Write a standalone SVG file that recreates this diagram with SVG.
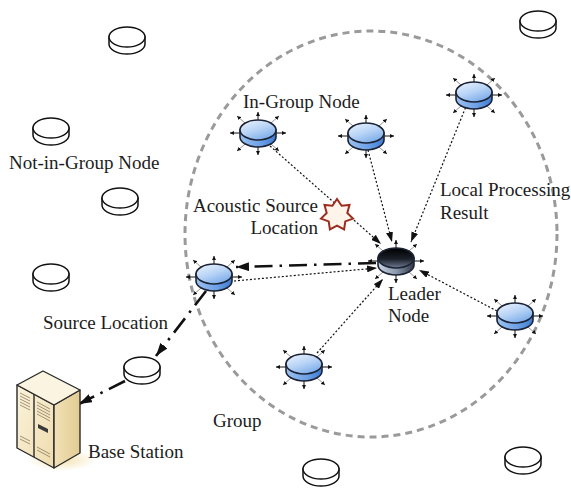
<svg xmlns="http://www.w3.org/2000/svg" xmlns:xlink="http://www.w3.org/1999/xlink" width="571" height="492" viewBox="0 0 571 492">
  <style>
    .lbl { font-family: "Liberation Serif", "Times New Roman", serif; font-size: 19px; fill: #1c1c1c; }
    .group { fill: none; stroke: #9a9a9a; stroke-width: 3; stroke-dasharray: 7 5; }
    .dot { fill: none; stroke: #111; stroke-width: 1.2; stroke-dasharray: 2 2; }
    .dashdot { fill: none; stroke: #111; stroke-width: 2.6; stroke-dasharray: 18 7 2.5 7; }
    .ray { stroke: #111; stroke-width: 1; }
    .ray2 { stroke: #777; stroke-width: 0.8; }
    .outline { stroke: #1b2233; stroke-width: 1.6; }
    .plain { fill: #fff; stroke: #111; stroke-width: 1.5; }
    .rack { stroke: #2a2a2a; stroke-width: 1.4; stroke-linejoin: round; }
  </style>
  <defs>
    <linearGradient id="blueTop" x1="0" y1="0" x2="0.6" y2="1">
      <stop offset="0" stop-color="#eef5ff"/>
      <stop offset="0.55" stop-color="#b9d4f6"/>
      <stop offset="1" stop-color="#7eaeea"/>
    </linearGradient>
    <linearGradient id="blueSide" x1="0" y1="0" x2="1" y2="0">
      <stop offset="0" stop-color="#9cc2f2"/>
      <stop offset="0.6" stop-color="#6b9fe4"/>
      <stop offset="1" stop-color="#3d7bd4"/>
    </linearGradient>
    <linearGradient id="darkTop" x1="0" y1="0" x2="0" y2="1">
      <stop offset="0" stop-color="#000"/>
      <stop offset="0.55" stop-color="#1b1f29"/>
      <stop offset="1" stop-color="#6f7c93"/>
    </linearGradient>
    <linearGradient id="darkSide" x1="0" y1="0" x2="1" y2="0">
      <stop offset="0" stop-color="#c9d3e2"/>
      <stop offset="0.5" stop-color="#8c99ae"/>
      <stop offset="1" stop-color="#2f3645"/>
    </linearGradient>
    <linearGradient id="rackFront" x1="0" y1="0" x2="1" y2="1">
      <stop offset="0" stop-color="#fbf3dc"/>
      <stop offset="1" stop-color="#efdcae"/>
    </linearGradient>
    <linearGradient id="rackSide" x1="0" y1="0" x2="1" y2="0">
      <stop offset="0" stop-color="#f2e2b8"/>
      <stop offset="1" stop-color="#e2cb92"/>
    </linearGradient>
    <radialGradient id="glow" cx="0.5" cy="0.5" r="0.5">
      <stop offset="0" stop-color="#f4e2b0"/>
      <stop offset="1" stop-color="#f4e2b0" stop-opacity="0"/>
    </radialGradient>

    <marker id="arr" viewBox="0 0 10 7" refX="10" refY="3.5" markerWidth="10" markerHeight="7" markerUnits="userSpaceOnUse" orient="auto">
      <path d="M0,0 L10,3.5 L0,7 Z" fill="#111"/>
    </marker>
    <marker id="arrBig" viewBox="0 0 13 9" refX="13" refY="4.5" markerWidth="13" markerHeight="9" markerUnits="userSpaceOnUse" orient="auto">
      <path d="M0,0 L13,4.5 L0,9 Z" fill="#111"/>
    </marker>
    <marker id="tip" viewBox="0 0 4 4" refX="4" refY="2" markerWidth="4" markerHeight="4" markerUnits="userSpaceOnUse" orient="auto">
      <path d="M0,0 L4,2 L0,4 Z" fill="#111"/>
    </marker>

    <!-- eight broadcast rays around an active sensor -->
    <g id="rays">
      <line class="ray" x1="0" y1="-13" x2="0" y2="-21" marker-end="url(#tip)"/>
      <line class="ray" x1="0" y1="14" x2="0" y2="22" marker-end="url(#tip)"/>
      <line class="ray" x1="-18" y1="0" x2="-28" y2="0" marker-end="url(#tip)"/>
      <line class="ray" x1="18" y1="0" x2="28" y2="0" marker-end="url(#tip)"/>
      <line class="ray2" x1="13" y1="-10" x2="21" y2="-17" marker-end="url(#tip)"/>
      <line class="ray2" x1="-13" y1="-10" x2="-21" y2="-17" marker-end="url(#tip)"/>
      <line class="ray2" x1="13" y1="11" x2="21" y2="18" marker-end="url(#tip)"/>
      <line class="ray2" x1="-13" y1="11" x2="-21" y2="18" marker-end="url(#tip)"/>
    </g>
    <g id="blueCyl">
      <use xlink:href="#rays"/>
      <path class="outline" d="M-18,-3 L-18,4 A18,10 0 0 0 18,4 L18,-3 Z" fill="url(#blueSide)"/>
      <ellipse class="outline" cx="0" cy="-3" rx="18" ry="10" fill="url(#blueTop)"/>
    </g>
    <g id="darkCyl">
      <use xlink:href="#rays"/>
      <path class="outline" d="M-18,-3 L-18,4 A18,10 0 0 0 18,4 L18,-3 Z" fill="url(#darkSide)"/>
      <ellipse class="outline" cx="0" cy="-3" rx="18" ry="10" fill="url(#darkTop)"/>
    </g>
    <g id="whiteCyl">
      <path class="plain" d="M-18,-3 L-18,4 A18,10 0 0 0 18,4 L18,-3 Z"/>
      <ellipse class="plain" cx="0" cy="-3" rx="18" ry="10"/>
    </g>
  </defs>

  <rect width="571" height="492" fill="#fff"/>

  <!-- group boundary -->
  <ellipse class="group" cx="371" cy="234" rx="186" ry="203"/>

  <!-- connectors -->
  <g id="connectors">
    <line class="dot" x1="270" y1="146" x2="381" y2="244" marker-end="url(#arr)"/>
    <line class="dot" x1="368" y1="150" x2="392" y2="242" marker-end="url(#arr)"/>
    <line class="dot" x1="467" y1="104" x2="411" y2="242" marker-end="url(#arr)"/>
    <line class="dot" x1="497" y1="311" x2="419" y2="270" marker-end="url(#arr)"/>
    <line class="dot" x1="317" y1="353" x2="383" y2="279" marker-end="url(#arr)"/>
    <line class="dot" x1="234" y1="281" x2="377" y2="268" marker-end="url(#arr)"/>
    <line class="dashdot" x1="376" y1="263" x2="236" y2="267" marker-end="url(#arrBig)"/>
    <line class="dashdot" x1="206" y1="291" x2="156" y2="356" marker-end="url(#arrBig)"/>
    <line class="dashdot" x1="125" y1="381" x2="79" y2="404" marker-end="url(#arrBig)"/>
  </g>

  <!-- sensors outside the group -->
  <g id="out-1" transform="translate(127,40)"><use xlink:href="#whiteCyl"/></g>
  <g id="out-2" transform="translate(51,131)"><use xlink:href="#whiteCyl"/></g>
  <g id="out-3" transform="translate(120,201)"><use xlink:href="#whiteCyl"/></g>
  <g id="out-4" transform="translate(51,277)"><use xlink:href="#whiteCyl"/></g>
  <g id="out-5" transform="translate(538,24)"><use xlink:href="#whiteCyl"/></g>
  <g id="out-6" transform="translate(142,370)"><use xlink:href="#whiteCyl"/></g>
  <g id="out-7" transform="translate(321,472)"><use xlink:href="#whiteCyl"/></g>
  <g id="out-8" transform="translate(523,460)"><use xlink:href="#whiteCyl"/></g>

  <!-- sensors inside the group -->
  <g id="in-1" transform="translate(258,133)"><use xlink:href="#blueCyl"/></g>
  <g id="in-2" transform="translate(366,136)"><use xlink:href="#blueCyl"/></g>
  <g id="in-3" transform="translate(474,95)"><use xlink:href="#blueCyl"/></g>
  <g id="in-4" transform="translate(214,277)"><use xlink:href="#blueCyl"/></g>
  <g id="in-5" transform="translate(515,316)"><use xlink:href="#blueCyl"/></g>
  <g id="in-6" transform="translate(304,367)"><use xlink:href="#blueCyl"/></g>
  <g id="leader" transform="translate(396,261)"><use xlink:href="#darkCyl"/></g>

  <!-- acoustic source -->
  <g id="source">
    <polygon points="337,199 341.6,205.8 349.5,205 347.3,212.9 353,218.6 345.3,221.4 344.1,229.5 337,225.7 329.9,229.5 328.7,221.4 321,218.6 326.7,212.9 324.5,205 332.4,205.8" fill="#fff4ea" stroke="#9b2d20" stroke-width="2" stroke-linejoin="miter"/>
  </g>

  <!-- base station -->
  <g id="base-station">
    <ellipse cx="62" cy="460" rx="34" ry="11" fill="url(#glow)"/>
    <path class="rack" d="M17,385 L54,405 L54,468 L17,448 Z" fill="url(#rackFront)"/>
    <path class="rack" d="M54,405 L80,390 L80,453 L54,468 Z" fill="url(#rackSide)"/>
    <path class="rack" d="M17,385 L43,371 L80,390 L54,405 Z" fill="#fbf4e0"/>
    <line class="rack" x1="34" y1="394" x2="34" y2="457"/>
    <g stroke="#8a7a5a" stroke-width="0.8">
      <line x1="20" y1="393" x2="30" y2="398"/>
      <line x1="20" y1="396" x2="30" y2="401"/>
      <line x1="20" y1="399" x2="30" y2="404"/>
      <line x1="20" y1="402" x2="30" y2="407"/>
      <line x1="20" y1="405" x2="30" y2="410"/>
      <line x1="37" y1="402" x2="50" y2="409"/>
      <line x1="37" y1="405" x2="50" y2="412"/>
      <line x1="37" y1="408" x2="50" y2="415"/>
      <line x1="37" y1="411" x2="50" y2="418"/>
      <line x1="37" y1="414" x2="50" y2="421"/>
      <line x1="20" y1="436" x2="30" y2="441"/>
      <line x1="20" y1="439" x2="30" y2="444"/>
      <line x1="37" y1="447" x2="50" y2="454"/>
      <line x1="37" y1="450" x2="50" y2="457"/>
    </g>
    <path d="M38,424 L48,429 L48,433 L38,428 Z" fill="#3a3a3a"/>
  </g>

  <!-- labels -->
  <g id="labels">
    <text class="lbl" x="243" y="108">In-Group Node</text>
    <text class="lbl" x="9" y="169">Not-in-Group Node</text>
    <text class="lbl" x="318" y="212" text-anchor="end">Acoustic Source</text>
    <text class="lbl" x="318" y="234" text-anchor="end">Location</text>
    <text class="lbl" x="440" y="196">Local Processing</text>
    <text class="lbl" x="440" y="219">Result</text>
    <text class="lbl" x="388" y="300">Leader</text>
    <text class="lbl" x="388" y="322">Node</text>
    <text class="lbl" x="43" y="329">Source Location</text>
    <text class="lbl" x="213" y="427">Group</text>
    <text class="lbl" x="88" y="458">Base Station</text>
  </g>
</svg>
